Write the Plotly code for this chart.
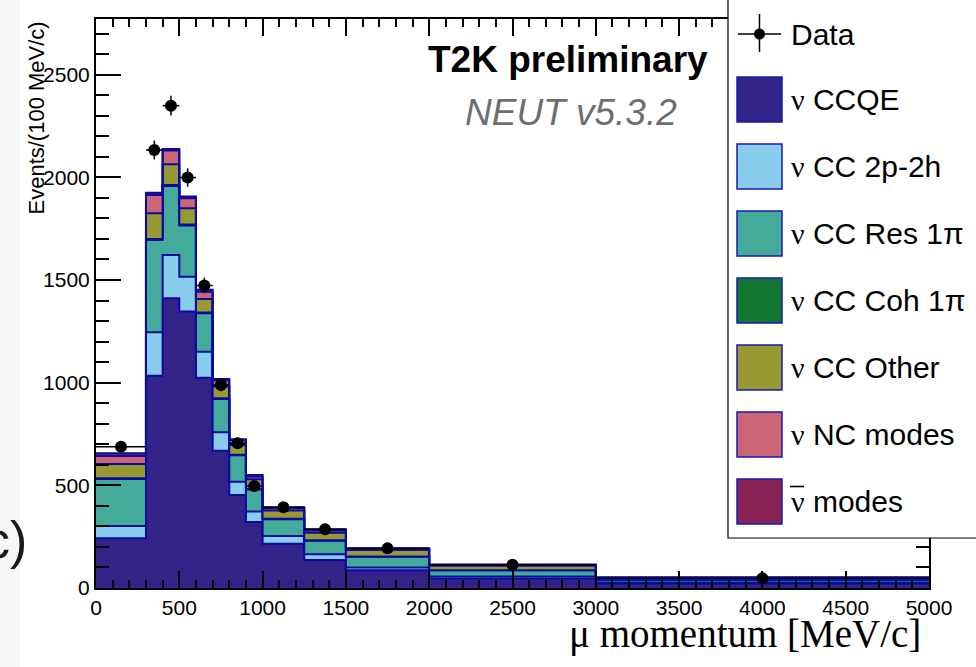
import plotly.graph_objects as go

# Muon momentum binning (MeV/c)
edges = [0, 300, 400, 500, 600, 700, 800, 900, 1000, 1250, 1500, 2000, 3000, 5000]

# Simulated contributions per interaction mode, events / (100 MeV/c), stacked bottom -> top
ccqe = [242, 1034, 1411, 1346, 1024, 669, 453, 322, 216, 136, 87, 46, 22]
cc2p2h = [60, 211, 211, 170, 127, 89, 65, 50, 37, 28, 13, 10, 5]
ccres = [229, 450, 336, 249, 187, 163, 128, 108, 82, 66, 52, 30, 13]
cccoh = [4, 5, 5, 5, 4, 3, 3, 2, 2, 2, 1, 1, 0]
ccother = [69, 125, 101, 79, 66, 57, 48, 47, 40, 37, 32, 21, 7]
ncmodes = [39, 89, 66, 49, 35, 29, 22, 14, 11, 11, 5, 4, 3]
antinu = [13, 11, 8, 8, 9, 8, 5, 7, 5, 6, 3, 3, 2]

# Measured events / (100 MeV/c) with statistical errors
data = [688, 2133, 2349, 1999, 1473, 989, 705, 497, 393, 286, 193, 113, 48]
data_err = [15, 46, 48, 45, 38, 31, 27, 22, 13, 11, 6, 3.4, 1.6]

# (neutrino symbol, label, values, fill colour, barred symbol)
modes = [
    ("ν", " CCQE", ccqe, "#332288", False),
    ("ν", " CC 2p-2h", cc2p2h, "#88CCEE", False),
    ("ν", " CC Res 1π", ccres, "#44AA99", False),
    ("ν", " CC Coh 1π", cccoh, "#117733", False),
    ("ν", " CC Other", ccother, "#999933", False),
    ("ν", " NC modes", ncmodes, "#CC6677", False),
    ("ν", " modes", antinu, "#882255", True),
]

EDGE = "#0a0a9e"
SANS = "Liberation Sans, Arial, sans-serif"
SERIF = "Liberation Serif, Times New Roman, serif"

# Figure geometry (pixels) used to place decorations in paper coordinates
W, H = 976, 667
L, R, T, B = 96, 929, 19, 588
YMAX = 2771


def px(x):
    return (x - L) / (R - L)


def py(y):
    return (B - y) / (B - T)


fig = go.Figure()

# Stacked step histograms
cum = [0.0] * len(ccqe)
for i, (_, _, vals, col, _) in enumerate(modes):
    cum = [c + v for c, v in zip(cum, vals)]
    fig.add_trace(go.Scatter(
        x=edges, y=cum + [cum[-1]],
        mode="lines", line=dict(shape="hv", color=EDGE, width=2),
        fill="tozeroy" if i == 0 else "tonexty", fillcolor=col,
        hoverinfo="skip",
    ))

# Data points with bin-width and statistical error bars
centers = [(a + b) / 2 for a, b in zip(edges[:-1], edges[1:])]
half_w = [(b - a) / 2 for a, b in zip(edges[:-1], edges[1:])]
fig.add_trace(go.Scatter(
    x=centers, y=data, mode="markers",
    marker=dict(color="black", size=12, symbol="circle"),
    error_x=dict(type="data", array=half_w, color="black", thickness=1.5, width=0),
    error_y=dict(type="data", array=data_err, color="black", thickness=1.5, width=0),
))

axis_common = dict(
    showline=True, linecolor="black", linewidth=2, mirror="allticks",
    ticks="inside", tickcolor="black", tickwidth=1.5,
    showgrid=False, zeroline=False,
    tickfont=dict(family=SANS, size=21, color="black"),
)
fig.update_xaxes(range=[0, 5000], dtick=500, ticklen=17,
                 minor=dict(dtick=100, ticklen=8, ticks="inside", tickcolor="black", tickwidth=1.5),
                 **axis_common)
fig.update_yaxes(range=[0, YMAX], dtick=500, ticklen=25,
                 minor=dict(dtick=100, ticklen=13, ticks="inside", tickcolor="black", tickwidth=1.5),
                 **axis_common)

shapes = []
annotations = []

# light strip at the left edge and stray "c)" label
shapes.append(dict(type="rect", xref="paper", yref="paper", x0=px(-5), x1=px(20), y0=py(H + 5), y1=py(-5),
                   fillcolor="#f7f7f7", line=dict(width=0), layer="below"))
annotations.append(dict(text="c)", xref="paper", yref="paper", x=px(29), y=py(540),
                        xanchor="right", yanchor="middle", showarrow=False,
                        font=dict(family=SANS, size=52, color="#1a1a1a")))

# Axis titles
annotations.append(dict(text="Events/(100 MeV/c)", xref="paper", yref="paper", x=px(36), y=py(20),
                        xanchor="center", yanchor="top", textangle=-90, showarrow=False,
                        font=dict(family=SANS, size=22, color="black")))
annotations.append(dict(text="μ momentum [MeV/c]", xref="paper", yref="paper", x=px(923), y=py(634),
                        xanchor="right", yanchor="middle", showarrow=False,
                        font=dict(family=SERIF, size=39, color="black")))

# Labels inside the frame
annotations.append(dict(text="<b>T2K preliminary</b>", xref="paper", yref="paper", x=px(426), y=py(59),
                        xanchor="left", yanchor="middle", showarrow=False,
                        font=dict(family=SANS, size=37, color="black")))
annotations.append(dict(text="<i>NEUT v5.3.2</i>", xref="paper", yref="paper", x=px(463), y=py(112),
                        xanchor="left", yanchor="middle", showarrow=False,
                        font=dict(family=SANS, size=37, color="#6e6e6e")))

# Legend box
shapes.append(dict(type="rect", xref="paper", yref="paper", x0=px(728), x1=px(990), y0=py(538), y1=py(-10),
                   fillcolor="white", line=dict(color="black", width=1.2), layer="above"))
# Data entry symbol
shapes.append(dict(type="line", xref="paper", yref="paper", x0=px(738), x1=px(781), y0=py(34), y1=py(34),
                   line=dict(color="black", width=1.5), layer="above"))
shapes.append(dict(type="line", xref="paper", yref="paper", x0=px(759.5), x1=px(759.5), y0=py(14), y1=py(52),
                   line=dict(color="black", width=1.5), layer="above"))
shapes.append(dict(type="circle", xref="paper", yref="paper", x0=px(754), x1=px(765), y0=py(28.5), y1=py(39.5),
                   fillcolor="black", line=dict(color="black", width=0), layer="above"))
annotations.append(dict(text="Data", xref="paper", yref="paper", x=px(789), y=py(34),
                        xanchor="left", yanchor="middle", showarrow=False,
                        font=dict(family=SANS, size=30, color="black")))

# Mode entries
y0_item, step = 99.5, 67.0
for k, (greek, label, _, col, barred) in enumerate(modes):
    yc = y0_item + k * step
    shapes.append(dict(type="rect", xref="paper", yref="paper", x0=px(737), x1=px(782),
                       y0=py(yc + 22.5), y1=py(yc - 22.5),
                       fillcolor=col, line=dict(color="#1a1ab0", width=1.5), layer="above"))
    annotations.append(dict(
        text=f'<span style="font-family:{SERIF}">{greek}</span>{label}',
        xref="paper", yref="paper", x=px(789), y=py(yc),
        xanchor="left", yanchor="middle", showarrow=False,
        font=dict(family=SANS, size=30, color="black")))
    if barred:
        # overline for the antineutrino symbol
        shapes.append(dict(type="line", xref="paper", yref="paper", x0=px(790), x1=px(804),
                           y0=py(yc - 15), y1=py(yc - 15),
                           line=dict(color="black", width=1.6), layer="above"))

fig.update_layout(
    width=W, height=H,
    margin=dict(l=L, r=W - R, t=T, b=H - B),
    paper_bgcolor="white", plot_bgcolor="white",
    showlegend=False,
    shapes=shapes, annotations=annotations,
    font=dict(family=SANS, color="black"),
)

fig.write_html("out.html")
